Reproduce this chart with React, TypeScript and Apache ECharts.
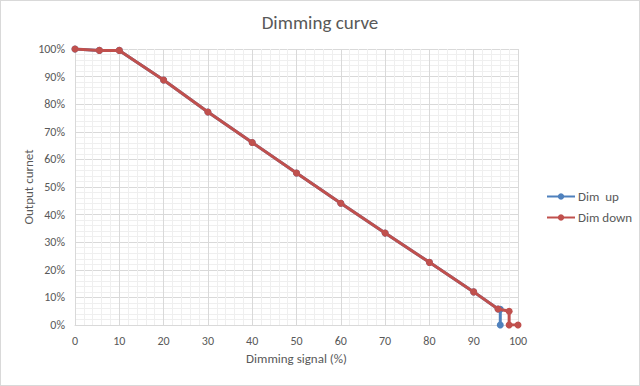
import React, { useEffect, useRef } from "react";
import * as echarts from "echarts";

const titleText = "Dimming curve";
const xAxisName = "Dimming signal (%)";
const yAxisName = "Output curnet";
const seriesNames = ["Dim  up", "Dim down"];

const dimUpX = [0, 5.5, 10, 20, 30, 40, 50, 60, 70, 80, 90, 95.5, 96, 96];
const dimUpY = [100, 99.5, 99.5, 88.8, 77.2, 66.1, 55.1, 44.1, 33.3, 22.7, 12, 5.8, 5.7, 0];
const dimDownX = [0, 5.5, 10, 20, 30, 40, 50, 60, 70, 80, 90, 95.5, 98, 98, 100];
const dimDownY = [100, 99.5, 99.5, 88.8, 77.2, 66.1, 55.1, 44.1, 33.3, 22.7, 12, 5.8, 5, 0, 0];

const FONT = "Carlito, 'Liberation Sans', 'Open Sans', sans-serif";
const TXT = "#595959";

export default function App() {
  const ref = useRef<HTMLDivElement>(null);
  useEffect(() => {
    if (!ref.current) return;
    const chart = echarts.init(ref.current, undefined, { renderer: "svg" });
    const pair = (xs: number[], ys: number[]) => xs.map((x, i) => [x, ys[i]]);
    chart.setOption({
      animation: false,
      backgroundColor: "#ffffff",
      textStyle: { fontFamily: FONT },
      title: {
        text: titleText,
        left: "center",
        top: 7,
        textStyle: { fontFamily: FONT, fontSize: 19, fontWeight: "normal", color: TXT },
      },
      legend: {
        orient: "vertical",
        left: 540,
        top: 184,
        itemWidth: 28,
        itemHeight: 8,
        itemGap: 8,
        itemStyle: { borderWidth: 0 },
        textStyle: { fontFamily: FONT, fontSize: 13, color: TXT, padding: [0, 0, 0, -2] },
        data: seriesNames,
      },
      grid: { left: 74, right: 121, top: 48, bottom: 60, containLabel: false },
      xAxis: {
        type: "value",
        min: 0,
        max: 100,
        interval: 10,
        name: xAxisName,
        nameLocation: "middle",
        nameGap: 27,
        nameMoveOverlap: false,
        nameTextStyle: { fontFamily: FONT, fontSize: 13, color: TXT },
        axisLine: { show: true, lineStyle: { color: "#d9d9d9" } },
        axisTick: { show: false },
        axisLabel: { color: TXT, fontFamily: FONT, fontSize: 12, margin: 10 },
        splitLine: { show: true, lineStyle: { color: "#d9d9d9" } },
        minorTick: { show: false, splitNumber: 5 },
        minorSplitLine: { show: true, lineStyle: { color: "#efefef" } },
      },
      yAxis: {
        type: "value",
        min: 0,
        max: 100,
        interval: 10,
        name: yAxisName,
        nameLocation: "middle",
        nameGap: 40,
        nameMoveOverlap: false,
        nameRotate: 90,
        nameTextStyle: { fontFamily: FONT, fontSize: 13, color: TXT },
        axisLine: { show: false },
        axisTick: { show: false },
        axisLabel: { color: TXT, fontFamily: FONT, fontSize: 12, margin: 10, formatter: "{value}%" },
        splitLine: { show: true, lineStyle: { color: "#d9d9d9" } },
        minorTick: { show: false, splitNumber: 5 },
        minorSplitLine: { show: true, lineStyle: { color: "#efefef" } },
      },
      series: [
        {
          name: seriesNames[0],
          type: "line",
          data: pair(dimUpX, dimUpY),
          symbol: "circle",
          symbolSize: 7,
          lineStyle: { width: 3, color: "#4F81BD" },
          itemStyle: { color: "#4F81BD" },
          z: 2,
        },
        {
          name: seriesNames[1],
          type: "line",
          data: pair(dimDownX, dimDownY),
          symbol: "circle",
          symbolSize: 7,
          lineStyle: { width: 3, color: "#C0504D" },
          itemStyle: { color: "#C0504D" },
          z: 3,
        },
      ],
    });
    return () => chart.dispose();
  }, []);
  return (
    <div
      style={{
        position: "absolute",
        left: 0,
        top: 0,
        width: 640,
        height: 386,
        boxSizing: "border-box",
        border: "1px solid #d9d9d9",
        background: "#fff",
      }}
    >
      <div ref={ref} style={{ width: 638, height: 384 }} />
    </div>
  );
}
